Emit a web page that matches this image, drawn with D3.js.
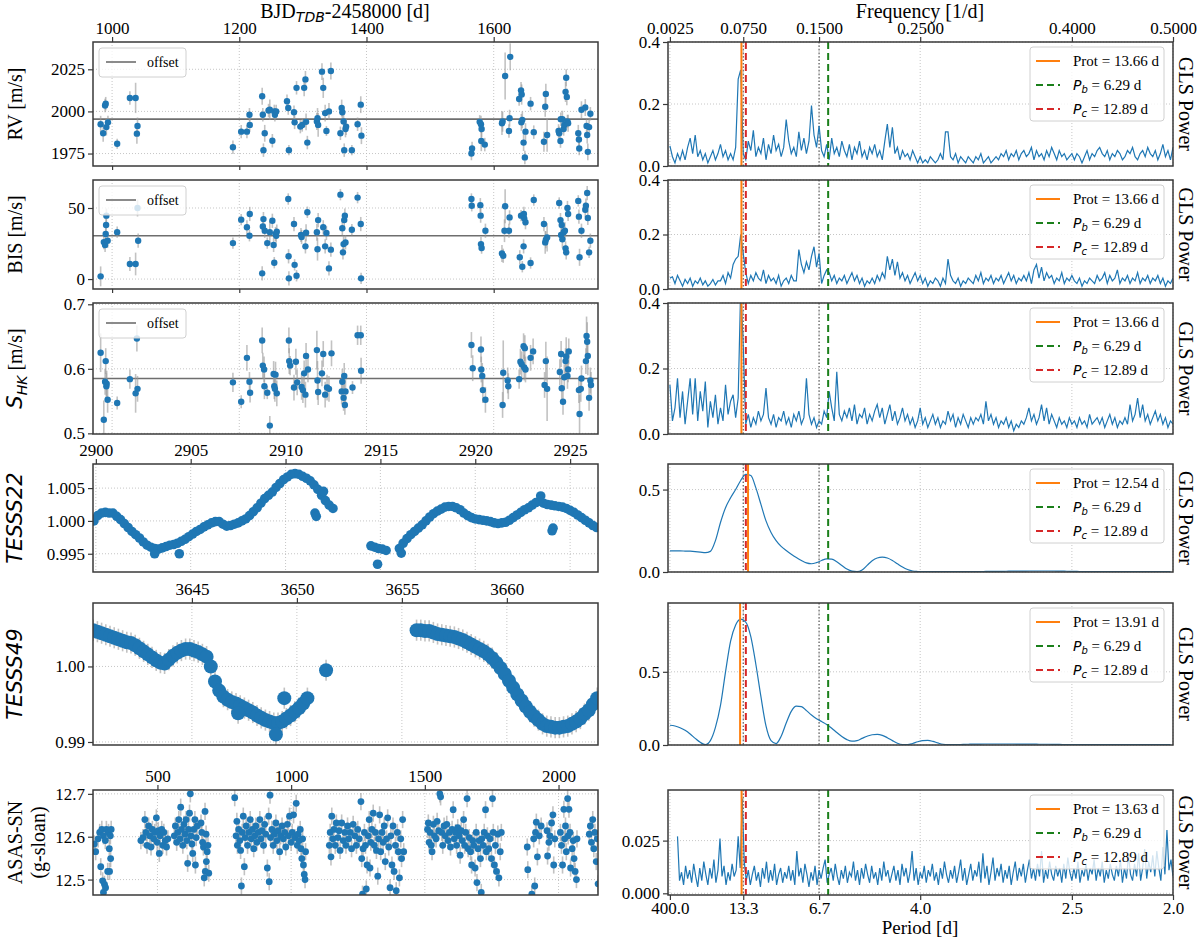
<!DOCTYPE html>
<html><head><meta charset="utf-8">
<script src="https://cdn.jsdelivr.net/npm/d3@7"></script>
<style>body{margin:0;background:#fff}</style>
</head><body>
<svg id="chart" width="1200" height="941"></svg>
<script>
// ================= DATA =================
const bjdTicks = [1000, 1200, 1400, 1600];
// [BJD-2458000, value, error]
const rvData = [[982,1992.4,5],[986,1987,5],[989,2003.5,4],[990,2004.6,4],[991,1990.7,5],[993.5,1993.5,4],[1008,1980.8,3],[1028,2008,4],[1037,2008,9],[1039,1986.8,6],[1040,1991.4,5],
[1190,1978.7,4],[1203,1988,4],[1212,1988,4],[1216,1998,4],[1216.5,1992,4],[1236,2009,5],[1237,1998,4],[1238,1977,4],[1240,1987,5],[1246,2000.5,4],[1248,2001,6],[1252,1982.6,4],[1255,2000,4],[1256,1998,4],[1258,2000,4],[1275,2006,4],[1277,2002,4],[1278,1977,3],[1286,1999.5,4],[1287,1993.5,4],[1290,2014,4],[1296,1991,4],[1299,1992,4],[1302,2014,5],[1304,2019,5],[1305,1993.8,5],[1307,1981.5,4],[1322,1994,5],[1323,1996,6],[1324,1992,7],[1330,2023.6,5],[1332,2014,6],[1335,1999,5],[1337,1988.4,3],[1341,2000,5],[1344,2024,5],[1359,1987,4],[1361,2002,5],[1362,1999.5,4],[1364,1994,5],[1365,1977,4],[1367,1989.6,5],[1368,1991,5],[1377,1977,3],[1386,1992.4,4],[1391,2004,5],[1392,1985.6,5],
[1565,1975,4],[1566,1978,4],[1578,1993.8,4],[1580,1992.4,5],[1580.5,1982.4,6],[1581,1989.6,5],[1586,1980.3,4],
[1613,1993,7],[1614,1994,6],[1618,2021,14],[1624,1988.4,4],[1625,1996,5],[1626,2032.4,8],[1640,2007.4,4],[1643,2012.5,5],[1643.5,1993.5,5],[1644,2010,6],[1645,1995,5],[1647,1981.5,5],[1649,1972.7,4],[1650,1988,5],[1658,2004.6,4],[1663,1987.7,4],[1679,1982,6],[1681,2002.8,6],[1682,2010.4,6],[1684,1986,10],[1702,1988.4,4],[1703,1987,4],[1705,1982.4,4],[1705.5,1995.4,4],[1708,1995.4,5],[1710,1989.6,4],[1711,1992,4],[1713,2011.6,6],[1714,2020,5],[1715,2008.6,5],[1716,1994,4],[1717,1993,5],[1733,1987,5],[1734,1983.3,5],[1734.5,1978,4],[1738,2001,5],[1744,2002.3,5],[1746,1991.4,4],[1747,1986,5],[1748,1976,5],[1750,1990.7,5],[1752,1998.6,4]];
const bisData = [[982,1.9,7],[987,26,5],[989,24,5],[990,31.7,5],[990.6,38,5],[991,44.6,5],[993,27,5],[1008,33,4],[1028,10.6,5],[1037,10.6,8],[1040,50,6],[1041,27,5],
[1190,25.3,4],[1203,41.8,4],[1212,36.4,5],[1216,30.5,4],[1216.5,45.8,5],[1236,4,5],[1237,37,5],[1238,42.2,5],[1240,34,5],[1244,25.3,4],[1248,32.9,8],[1252,41,5],[1254,24,5],[1255,11.5,4],[1257,31.7,5],[1258,30.5,5],[1259,33.3,5],[1277,56.3,4],[1277.5,16,5],[1278,0.5,5],[1286,38.7,5],[1287,10,4],[1290,2.3,4],[1297,31,5],[1298,29.6,5],[1304,23,5],[1305,32.6,6],[1307,47,4],[1322,32.9,6],[1323,21,8],[1324,41.5,5],[1332,36.4,5],[1335,23,5],[1337,32.4,5],[1341,7.5,5],[1344,20.7,5],[1359,59.4,4],[1362,35.7,5],[1363,18.8,5],[1364,24.6,6],[1365,41.5,5],[1366,44.6,5],[1367,25.8,5],[1377,34.7,4],[1386,57.3,4],[1391,38.7,5],[1391.5,0.5,4],
[1565,56.3,4],[1565.5,51.6,4],[1579,52,5],[1579.5,44.6,5],[1580,24.6,5],[1581,21.8,4],[1587,34,5],
[1613,18,6],[1615,16.4,5],[1617,34,8],[1618,51.2,12],[1624,34,5],[1625,43.4,5],[1641,15.3,5],[1643,44.6,4],[1645,8.7,4],[1647,23,5],[1647.5,45.8,5],[1648,42.7,5],[1650,40,5],[1658,11.3,4],[1663,55.6,4],[1679,38.7,5],[1681,25.8,8],[1682,27.7,6],[1684,29.3,10],[1703,53.5,4],[1705,41.5,5],[1706,31,5],[1707,38,5],[1708,28,6],[1710,32.9,5],[1712,34,6],[1713,21.6,5],[1714,18.8,5],[1716,50,5],[1717,45.8,5],[1733,55,4],[1734,43.9,5],[1735,15.3,6],[1738,34,5],[1744,48.8,5],[1745,51.6,5],[1747,60.5,5],[1748,43,5],[1750,18.8,4],[1752,27,5]];
const shkData = [[982,0.625,0.03],[987,0.521,0.03],[989,0.58,0.02],[990,0.612,0.02],[991,0.573,0.02],[991.5,0.577,0.02],[993,0.552,0.02],[1008,0.547,0.01],[1028,0.584,0.015],[1037,0.562,0.03],[1039,0.647,0.02],[1040,0.569,0.02],
[1190,0.579,0.015],[1203,0.549,0.01],[1212,0.617,0.02],[1216,0.58,0.015],[1217,0.563,0.015],[1236,0.644,0.02],[1237,0.605,0.02],[1239,0.599,0.02],[1239.5,0.573,0.02],[1244,0.563,0.01],[1248,0.512,0.015],[1254,0.592,0.02],[1255,0.573,0.02],[1256,0.569,0.02],[1257,0.591,0.02],[1259,0.562,0.02],[1278,0.644,0.02],[1278.5,0.612,0.02],[1280,0.605,0.015],[1286,0.571,0.02],[1289,0.611,0.02],[1291,0.579,0.02],[1298,0.572,0.02],[1300,0.567,0.02],[1302,0.593,0.02],[1304,0.56,0.02],[1305,0.62,0.02],[1308,0.599,0.02],[1322,0.629,0.03],[1323,0.582,0.03],[1324,0.564,0.02],[1330,0.593,0.02],[1332,0.623,0.02],[1335,0.56,0.02],[1338,0.571,0.02],[1341,0.569,0.02],[1345,0.624,0.02],[1361,0.565,0.02],[1362,0.58,0.02],[1364,0.555,0.02],[1365,0.589,0.02],[1366,0.544,0.015],[1367,0.565,0.02],[1378,0.571,0.01],[1386,0.652,0.015],[1391,0.652,0.015],[1391.5,0.597,0.02],
[1565,0.637,0.02],[1567,0.601,0.02],[1580,0.63,0.02],[1580.5,0.599,0.02],[1582,0.589,0.02],[1583,0.567,0.02],[1587,0.552,0.02],
[1614,0.544,0.02],[1615,0.594,0.05],[1622,0.582,0.02],[1623,0.573,0.02],[1640,0.584,0.015],[1642,0.611,0.02],[1644,0.607,0.02],[1647,0.635,0.02],[1648,0.602,0.02],[1649,0.632,0.02],[1650,0.599,0.02],[1658,0.617,0.02],[1662,0.627,0.02],[1680,0.575,0.02],[1682,0.612,0.03],[1684,0.569,0.05],[1704,0.595,0.02],[1706,0.623,0.02],[1707,0.57,0.02],[1709,0.549,0.02],[1711,0.587,0.02],[1713,0.612,0.02],[1714,0.619,0.03],[1716,0.589,0.02],[1717,0.599,0.02],[1718,0.627,0.02],[1734,0.567,0.02],[1735,0.53,0.03],[1737,0.569,0.02],[1738,0.585,0.02],[1745,0.612,0.02],[1746,0.651,0.03],[1747,0.642,0.03],[1748,0.62,0.03],[1750,0.555,0.02],[1752,0.582,0.02],[1753,0.575,0.02]];
const rvOffset = 1995.4, bisOffset = 30.5, shkOffset = 0.585;

// TESS cadence-binned fluxes (time grid start + i*binStep)
const binStep = 0.2;
const tess22Ticks = [2900, 2905, 2910, 2915, 2920, 2925];
const tess22Start1 = 2899.9;
const tess22Flux1 = [1.0000,1.0008,1.0012,1.0013,1.0012,1.0012,1.0007,1.0002,0.9996,0.9990,
 0.9984,0.9979,0.9974,0.9968,0.9963,0.9960,0.9958,0.9957,0.9959,0.9961,
 0.9963,0.9964,0.9966,0.9969,0.9972,0.9976,0.9980,0.9984,0.9987,0.9991,
 0.9994,0.9997,0.9999,0.9999,0.9995,0.9992,0.9993,0.9995,0.9997,1.0000,
 1.0003,1.0008,1.0014,1.0020,1.0027,1.0034,1.0039,1.0044,1.0051,1.0057,
 1.0063,1.0067,1.0071,1.0072,1.0071,1.0068,1.0065,1.0061,1.0055,1.0048,
 1.0039,1.0031,1.0024,1.0019];
const tess22Start2 = 2914.5;
const tess22Flux2 = [0.9962,0.9960,0.9958,0.9957,0.9955];
const tess22Start3 = 2916.0;
const tess22Flux3 = [0.9958,0.9966,0.9973,0.9979,0.9984,0.9989,0.9994,1.0000,1.0006,1.0011,
 1.0015,1.0018,1.0021,1.0022,1.0022,1.0020,1.0017,1.0012,1.0008,1.0005,
 1.0003,1.0002,1.0001,1.0000,0.9999,0.9997,0.9996,0.9997,0.9998,1.0001,
 1.0005,1.0009,1.0013,1.0017,1.0020,1.0024,1.0028,1.0030,1.0027,1.0025,
 1.0024,1.0023,1.0022,1.0021,1.0019,1.0016,1.0013,1.0009,1.0005,1.0001,
 0.9997,0.9993,0.9990];
const tess22Outliers = [[2911.55,1.0012],[2911.62,1.0007],[2914.85,0.9934],[2923.45,1.0038],[2924.05,0.9985],[2924.1,0.9989],[2916.1,0.9951],[2903.1,0.9950],[2904.4,0.9950],[2912.0,1.0045]];
const tess22Scatter = 0.0004;

const tess49Ticks = [3645, 3650, 3655, 3660];
const tess49Start1 = 3640.3;
const tess49Flux1 = [1.0048,1.0046,1.0044,1.0042,1.0040,1.0038,1.0036,1.0034,1.0032,
 1.0031,1.0028,1.0024,1.0020,1.0016,1.0012,1.0008,1.0005,1.0004,1.0009,
 1.0014,1.0018,1.0021,1.0023,1.0023,1.0021,1.0019,1.0016,1.0013,1.0000,
 0.9980,0.9968,0.9960,0.9956,0.9953,0.9951,0.9948,0.9945,0.9942,0.9939,
 0.9935,0.9932,0.9929,0.9927,0.9925,0.9925,0.9927,0.9931,0.9935,0.9940,
 0.9945,0.9951,0.9958];
const tess49Start2 = 3655.7;
const tess49Flux2 = [1.0048,1.0048,1.0047,1.0047,1.0045,1.0043,1.0042,1.0041,1.0040,1.0039,
 1.0037,1.0035,1.0032,1.0029,1.0026,1.0023,1.0020,1.0016,1.0011,1.0005,
 0.9998,0.9990,0.9981,0.9972,0.9963,0.9955,0.9947,0.9940,0.9934,0.9929,
 0.9924,0.9921,0.9920,0.9919,0.9919,0.9920,0.9921,0.9924,0.9927,0.9931,
 0.9937,0.9942,0.9950,0.9958];
const tess49Outliers = [[3651.39,0.9995],[3649.0,0.9910],[3647.2,0.9938],[3649.4,0.9958]];
const tess49Scatter = 0.0014;

const asasTicks = [500, 1000, 1500, 2000];
const asasErr = 0.02;
const asasData = [[264,12.583],[269,12.565],[278,12.595],[284,12.61],[288,12.53],[292,12.617],[295,12.497],[298,12.602],[302,12.489],[305,12.591],[306,12.481],[309,12.617],[314,12.519],[317,12.61],[320,12.572],[321,12.519],[324,12.602],[325,12.549],[327,12.617],[298,12.47],
[438,12.591],[446,12.598],[453,12.64],[457,12.61],[461,12.58],[467,12.625],[471,12.602],[476,12.576],[481,12.617],[486,12.595],[490,12.61],[496,12.644],[499,12.587],[503,12.614],[507,12.561],[510,12.602],[516,12.617],[520,12.58],[524,12.61],[529,12.591],[534,12.576],[539,12.595],
[563,12.602],[567,12.625],[572,12.587],[576,12.61],[580,12.64],[585,12.595],[587,12.669],[590,12.617],[595,12.58],[599,12.629],[603,12.606],[607,12.64],[610,12.591],[613,12.538],[616,12.617],[620,12.655],[623,12.7],[625,12.602],[629,12.583],[632,12.561],[636,12.617],[640,12.64],[642,12.534],[645,12.598],[649,12.625],
[663,12.632],[666,12.61],[669,12.587],[672,12.576],[675,12.504],[678,12.659],[679,12.519],[682,12.606],[683,12.542],[686,12.565],[689,12.58],[692,12.515],
[789,12.691],[794,12.602],[797,12.636],[799,12.58],[804,12.617],[808,12.591],[811,12.568],[814,12.485],[817,12.61],[821,12.648],[825,12.53],[828,12.598],[832,12.625],[837,12.58],[842,12.61],[847,12.64],[851,12.595],[855,12.617],[860,12.572],[864,12.602],[868,12.625],[872,12.587],[877,12.61],[883,12.64],[887,12.595],[891,12.614],[897,12.58],[901,12.629],[905,12.606],[911,12.527],[916,12.648],[918,12.495],[921,12.697],[923,12.598],[928,12.617],[933,12.58],[937,12.606],[943,12.632],[947,12.591],[951,12.614],[957,12.565],[961,12.602],[966,12.625],[971,12.595],[976,12.61],[980,12.576],[986,12.629],[990,12.602],[994,12.648],[1000,12.587],[1004,12.61],[1009,12.651],[1014,12.598],[1019,12.678],[1023,12.58],[1026,12.606],[1030,12.591],[1034,12.617],[1037,12.572],[1040,12.549],[1043,12.595],[1046,12.534],[1049,12.512],[1052,12.5],[1054,12.565],
[1143,12.58],[1146,12.61],[1149,12.553],[1152,12.648],[1156,12.595],[1160,12.617],[1165,12.58],[1169,12.632],[1175,12.598],[1179,12.614],[1183,12.568],[1189,12.632],[1195,12.591],[1201,12.61],[1205,12.58],[1211,12.625],[1215,12.595],[1221,12.61],[1226,12.572],[1232,12.629],[1238,12.602],[1244,12.58],[1249,12.617],[1255,12.595],[1261,12.682],[1264,12.549],[1267,12.466],[1269,12.572],[1274,12.61],[1278,12.58],[1281,12.478],[1284,12.534],[1288,12.602],[1292,12.64],[1295,12.527],[1298,12.587],[1302,12.617],[1307,12.655],[1311,12.58],[1315,12.61],[1319,12.568],[1324,12.508],[1327,12.595],[1331,12.651],[1335,12.565],[1340,12.61],[1344,12.587],[1348,12.625],[1352,12.542],[1357,12.595],[1361,12.644],[1365,12.576],[1370,12.481],[1373,12.602],[1377,12.534],[1381,12.625],[1385,12.519],[1390,12.58],[1393,12.474],[1397,12.61],[1401,12.565],[1405,12.504],[1410,12.595],[1413,12.549],[1417,12.64],[1421,12.565],
[1510,12.617],[1513,12.632],[1516,12.587],[1520,12.61],[1524,12.58],[1527,12.565],[1532,12.629],[1536,12.602],[1542,12.595],[1546,12.636],[1552,12.614],[1556,12.7],[1559,12.693],[1563,12.61],[1567,12.58],[1572,12.625],[1576,12.602],[1582,12.629],[1587,12.591],[1592,12.61],[1596,12.576],[1602,12.617],[1606,12.663],[1610,12.595],[1615,12.61],[1619,12.58],[1623,12.621],[1628,12.602],[1632,12.557],[1636,12.614],[1640,12.591],[1645,12.64],[1649,12.58],[1653,12.61],[1658,12.689],[1662,12.572],[1666,12.598],[1671,12.565],[1675,12.534],[1679,12.591],[1683,12.58],[1688,12.527],[1692,12.61],[1695,12.493],[1699,12.572],[1703,12.591],[1708,12.549],[1711,12.47],[1713,12.595],[1718,12.58],[1722,12.61],[1727,12.663],[1730,12.565],[1734,12.602],[1739,12.572],[1744,12.595],[1749,12.549],[1753,12.689],[1756,12.61],[1760,12.534],[1764,12.58],[1768,12.519],[1773,12.606],[1777,12.504],[1782,12.565],[1786,12.61],
[1883,12.576],[1885,12.523],[1900,12.466],[1907,12.595],[1911,12.485],[1914,12.61],[1917,12.634],[1921,12.553],[1928,12.602],[1935,12.625],[1957,12.614],[1959,12.555],[1964,12.587],[1968,12.602],[1974,12.632],[1979,12.651],[1982,12.534],[1986,12.595],[2007,12.61],[2011,12.58],[2015,12.534],[2020,12.664],[2023,12.595],[2026,12.625],[2029,12.565],[2034,12.689],[2036,12.602],[2039,12.664],[2043,12.61],[2045,12.527],[2051,12.572],[2055,12.591],[2058,12.549],[2062,12.519],[2067,12.5],[2069,12.595],[2115,12.606],[2119,12.625],[2123,12.587],[2128,12.64],[2132,12.572],[2136,12.61],[2141,12.542],[2145,12.595],[2148,12.49]];

// Periodograms. Noisy ones on grid f = 0.0025*(i+1); smooth ones on f = 0.0025 + 0.005*i; ASAS f = 0.01 + 0.002*i
const noisyStep = 0.0025, smoothStart = 0.0025, smoothStep = 0.005, asasStart = 0.01, asasStep = 0.002;
const glsRV = [0.065,0.03,0.01,0.04,0.02,0.05,0.02,0.06,0.09,0.04,
0.1,0.03,0.05,0.02,0.04,0.01,0.03,0.05,0.02,0.04,
0.07,0.03,0.05,0.02,0.04,0.02,0.06,0.28,0.31,0.04,
0.02,0.08,0.05,0.115,0.03,0.06,0.04,0.09,0.02,0.07,
0.04,0.1,0.05,0.07,0.03,0.06,0.15,0.08,0.04,0.06,
0.03,0.11,0.05,0.09,0.04,0.08,0.195,0.1,0.06,0.13,
0.05,0.03,0.07,0.02,0.09,0.04,0.06,0.03,0.08,0.05,
0.03,0.07,0.02,0.06,0.04,0.08,0.03,0.05,0.02,0.06,
0.04,0.07,0.03,0.05,0.02,0.08,0.135,0.06,0.125,0.04,
0.06,0.02,0.05,0.03,0.04,0.02,0.05,0.03,0.01,0.03,
0.01,0.02,0.01,0.03,0.02,0.01,0.02,0.04,0.02,0.11,
0.11,0.03,0.02,0.04,0.01,0.03,0.02,0.01,0.03,0.02,
0.01,0.03,0.02,0.04,0.01,0.02,0.03,0.01,0.02,0.03,
0.02,0.04,0.03,0.05,0.02,0.04,0.03,0.05,0.02,0.04,
0.05,0.03,0.04,0.06,0.02,0.05,0.03,0.04,0.02,0.05,
0.03,0.06,0.04,0.02,0.05,0.03,0.04,0.02,0.03,0.04,
0.02,0.04,0.03,0.01,0.03,0.05,0.02,0.04,0.03,0.05,
0.06,0.04,0.03,0.05,0.02,0.04,0.03,0.05,0.04,0.02,
0.03,0.05,0.04,0.06,0.03,0.02,0.04,0.05,0.03,0.06,
0.04,0.03,0.05,0.02,0.04,0.07,0.03,0.05,0.02,0.06];
const glsBIS = [0.04,0.045,0.02,0.05,0.03,0.01,0.035,0.02,0.04,0.01,
0.03,0.02,0.04,0.015,0.03,0.01,0.02,0.035,0.015,0.03,
0.03,0.05,0.02,0.06,0.04,0.09,0.11,0.12,0.2,0.13,
0.06,0.02,0.05,0.03,0.06,0.04,0.03,0.07,0.02,0.05,
0.03,0.04,0.02,0.05,0.01,0.03,0.04,0.02,0.05,0.03,
0.03,0.145,0.09,0.06,0.1,0.07,0.12,0.155,0.08,0.13,
0.02,0.05,0.07,0.06,0.03,0.05,0.02,0.04,0.03,0.05,
0.02,0.04,0.06,0.03,0.05,0.02,0.04,0.01,0.03,0.02,
0.04,0.02,0.05,0.03,0.06,0.04,0.12,0.07,0.11,0.05,
0.1,0.04,0.06,0.03,0.05,0.02,0.04,0.06,0.03,0.05,
0.02,0.04,0.01,0.03,0.02,0.04,0.03,0.01,0.04,0.02,
0.11,0.05,0.03,0.02,0.04,0.01,0.03,0.02,0.04,0.03,
0.02,0.05,0.03,0.06,0.02,0.04,0.03,0.05,0.02,0.04,
0.03,0.05,0.02,0.04,0.06,0.03,0.05,0.02,0.04,0.03,
0.05,0.03,0.06,0.02,0.07,0.09,0.04,0.08,0.03,0.06,
0.04,0.05,0.02,0.04,0.03,0.06,0.02,0.04,0.03,0.05,
0.03,0.02,0.04,0.01,0.03,0.02,0.04,0.03,0.02,0.05,
0.03,0.04,0.06,0.02,0.05,0.03,0.04,0.07,0.02,0.04,
0.03,0.05,0.02,0.04,0.03,0.06,0.02,0.04,0.03,0.05,
0.02,0.04,0.03,0.05,0.02,0.04,0.01,0.03,0.02,0.04];
const glsSHK = [0.15,0.04,0.08,0.17,0.05,0.13,0.03,0.1,0.17,0.06,
0.17,0.04,0.13,0.07,0.16,0.02,0.1,0.05,0.12,0.03,
0.08,0.04,0.15,0.06,0.1,0.12,0.05,0.11,0.45,0.27,
0.03,0.06,0.02,0.05,0.03,0.07,0.04,0.06,0.14,0.05,
0.03,0.06,0.02,0.05,0.04,0.07,0.03,0.05,0.02,0.06,
0.04,0.07,0.03,0.05,0.17,0.06,0.03,0.05,0.02,0.04,
0.03,0.07,0.05,0.13,0.08,0.04,0.19,0.06,0.04,0.07,
0.05,0.08,0.04,0.09,0.03,0.06,0.05,0.08,0.03,0.06,
0.04,0.07,0.09,0.05,0.08,0.03,0.06,0.09,0.04,0.07,
0.03,0.05,0.08,0.04,0.06,0.03,0.05,0.02,0.04,0.08,
0.03,0.05,0.02,0.04,0.06,0.03,0.05,0.02,0.04,0.03,
0.07,0.04,0.06,0.02,0.05,0.03,0.06,0.04,0.02,0.05,
0.03,0.05,0.04,0.06,0.03,0.1,0.04,0.06,0.03,0.05,
0.02,0.04,0.03,0.05,0.02,0.04,0.01,0.03,0.02,0.04,
0.03,0.05,0.08,0.04,0.06,0.03,0.05,0.09,0.04,0.08,
0.03,0.06,0.04,0.02,0.05,0.03,0.04,0.02,0.05,0.03,
0.04,0.02,0.05,0.03,0.04,0.02,0.06,0.03,0.04,0.05,
0.03,0.05,0.02,0.04,0.06,0.03,0.05,0.02,0.04,0.03,
0.05,0.03,0.09,0.04,0.06,0.11,0.05,0.09,0.04,0.06,
0.03,0.05,0.07,0.04,0.06,0.03,0.05,0.02,0.04,0.03];
const glsTESS22 = [0.128,0.128,0.128,0.127,0.126,0.124,0.121,0.117,0.125,0.19,
0.30,0.39,0.45,0.50,0.555,0.592,0.585,0.51,0.41,0.31,
0.24,0.19,0.155,0.13,0.108,0.088,0.07,0.055,0.05,0.057,
0.07,0.08,0.078,0.062,0.04,0.018,0.005,0.002,0.012,0.04,
0.068,0.085,0.09,0.085,0.07,0.05,0.03,0.015,0.006,0.003,
0.002,0.002,0.003,0.003,0.003,0.003,0.002,0.002,0.002,0.002,
0.002,0.003,0.003,0.004,0.004,0.004,0.004,0.005,0.005,0.005,
0.005,0.006,0.006,0.006,0.006,0.006,0.006,0.005,0.005,0.004,
0.004,0.003,0.003,0.002,0.002,0.002,0.002,0.002,0.002,0.003,
0.003,0.003,0.003,0.003,0.003,0.002,0.002,0.002,0.002,0.002];
const glsTESS49 = [0.135,0.13,0.118,0.1,0.075,0.045,0.018,0.002,0.03,0.12,
0.27,0.5,0.71,0.82,0.86,0.84,0.74,0.55,0.33,0.13,
0.03,0.01,0.06,0.15,0.23,0.265,0.262,0.235,0.205,0.18,
0.16,0.14,0.115,0.085,0.058,0.037,0.026,0.03,0.045,0.06,
0.07,0.072,0.066,0.05,0.03,0.012,0.003,0.002,0.01,0.022,
0.03,0.031,0.025,0.014,0.005,0.002,0.002,0.003,0.004,0.005,
0.006,0.006,0.007,0.007,0.007,0.007,0.007,0.007,0.007,0.006,
0.006,0.006,0.006,0.005,0.005,0.005,0.004,0.004,0.003,0.002,
0.002,0.002,0.003,0.003,0.003,0.002,0.002,0.002,0.002,0.002,
0.002,0.002,0.002,0.002,0.002,0.002,0.002,0.002,0.002,0.002];
const glsASAS = [0.027,0.006,0.01,0.004,0.013,0.007,
0.011,0.005,0.014,0.008,0.003,0.012,0.006,0.015,0.009,0.004,
0.012,0.007,0.016,0.005,0.011,0.026,0.008,0.013,0.004,0.01,
0.006,0.014,0.008,0.011,0.027,0.012,0.045,0.015,0.006,0.011,
0.004,0.009,0.013,0.006,0.01,0.003,0.012,0.007,0.015,0.005,
0.011,0.006,0.014,0.004,0.009,0.012,0.005,0.01,0.007,0.013,
0.006,0.011,0.004,0.02,0.008,0.012,0.005,0.014,0.009,0.003,
0.01,0.006,0.013,0.004,0.011,0.007,0.012,0.016,0.005,0.009,
0.012,0.006,0.014,0.008,0.004,0.011,0.007,0.013,0.005,0.01,
0.008,0.015,0.006,0.011,0.004,0.012,0.007,0.014,0.009,0.005,
0.013,0.007,0.01,0.004,0.012,0.006,0.015,0.008,0.011,0.005,
0.009,0.013,0.006,0.011,0.004,0.014,0.008,0.012,0.005,0.01,
0.02,0.006,0.012,0.004,0.01,0.007,0.013,0.005,0.011,0.008,
0.014,0.006,0.01,0.004,0.012,0.007,0.015,0.009,0.005,0.011,
0.007,0.013,0.005,0.01,0.016,0.006,0.012,0.004,0.009,0.014,
0.006,0.011,0.008,0.015,0.005,0.019,0.007,0.013,0.004,0.01,
0.017,0.006,0.012,0.008,0.014,0.005,0.011,0.007,0.013,0.004,
0.01,0.015,0.006,0.012,0.008,0.014,0.005,0.011,0.016,0.007,
0.012,0.006,0.014,0.008,0.02,0.005,0.011,0.007,0.015,0.009,
0.006,0.013,0.008,0.012,0.005,0.014,0.007,0.017,0.01,0.006,
0.012,0.007,0.015,0.005,0.011,0.008,0.014,0.006,0.012,0.009,
0.016,0.006,0.012,0.008,0.015,0.005,0.011,0.007,0.014,0.009,
0.006,0.013,0.008,0.016,0.005,0.012,0.007,0.018,0.009,0.006,
0.014,0.008,0.019,0.006,0.012,0.021,0.007,0.015,0.01,0.018,
0.008,0.02,0.012,0.006,0.022,0.009,0.03,0.011,0.016,0.008];
const protValues = [13.66, 13.66, 13.66, 12.54, 13.91, 13.63];
const periodB = 6.29, periodC = 12.89;
const freqTicks = [0.0025, 0.075, 0.15, 0.25, 0.4, 0.5];
const freqTickLabels = ['0.0025','0.0750','0.1500','0.2500','0.4000','0.5000'];
const periodTickLabels = ['400.0','13.3','6.7','4.0','2.5','2.0'];

// ================= DRAWING =================
const svg = d3.select('#chart');
const LX = [93, 598], RX = [668, 1173];
const ROWS = [[42,166],[180,289],[303,434],[464,572],[603,745],[790,895]];
const BLUE='#1f77b4', ORANGE='#ff7f0e', GREEN='#1a7f1a', RED='#d62728';
const SERIF='"Liberation Serif","Times New Roman",Times,serif';
const SANS='"DejaVu Sans",Verdana,sans-serif';
const TICKFS = 17;
const defs = svg.append('defs');
let cid = 0;

function makePanel(xr,row,xDom,yDom){
  const x=d3.scaleLinear().domain(xDom).range(xr);
  const y=d3.scaleLinear().domain(yDom).range([row[1],row[0]]);
  const id='clip'+(cid++);
  defs.append('clipPath').attr('id',id).append('rect').attr('x',xr[0]).attr('y',row[0]).attr('width',xr[1]-xr[0]).attr('height',row[1]-row[0]);
  const g=svg.append('g');
  const grid=g.append('g'), body=g.append('g').attr('clip-path',`url(#${id})`), over=g.append('g');
  return {x,y,xr,row,g,grid,body,over};
}
function gridLines(p,xv,yv){
  p.grid.selectAll(null).data(xv).join('line')
    .attr('x1',d=>p.x(d)).attr('x2',d=>p.x(d)).attr('y1',p.row[0]).attr('y2',p.row[1])
    .attr('stroke','#b8b8b8').attr('stroke-width',0.8).attr('stroke-dasharray','1,2');
  p.grid.selectAll(null).data(yv).join('line')
    .attr('y1',d=>p.y(d)).attr('y2',d=>p.y(d)).attr('x1',p.xr[0]).attr('x2',p.xr[1])
    .attr('stroke','#b8b8b8').attr('stroke-width',0.8).attr('stroke-dasharray','1,2');
}
function frame(p){
  p.over.append('rect').attr('x',p.xr[0]).attr('y',p.row[0]).attr('width',p.xr[1]-p.xr[0]).attr('height',p.row[1]-p.row[0])
    .attr('fill','none').attr('stroke','#3a3a3a').attr('stroke-width',1.5);
}
function styleAxis(s){
  s.attr('font-family',SERIF).attr('font-size',TICKFS);
  s.select('.domain').remove();
  s.selectAll('.tick line').attr('stroke','#3a3a3a').attr('stroke-width',1.2);
  s.selectAll('.tick text').attr('fill','#000');
}
function yAxis(p,vals,fmt){
  p.over.append('g').attr('transform',`translate(${p.xr[0]},0)`)
    .call(d3.axisLeft(p.y).tickValues(vals).tickFormat(fmt).tickSize(5).tickPadding(3)).call(styleAxis);
}
function topAxis(p,vals,fmt){
  p.over.append('g').attr('transform',`translate(0,${p.row[0]})`)
    .call(d3.axisTop(p.x).tickValues(vals).tickFormat(fmt).tickSize(5).tickPadding(3)).call(styleAxis);
}
function bottomAxis(p,vals,fmt,size){
  p.over.append('g').attr('transform',`translate(0,${p.row[1]})`)
    .call(d3.axisBottom(p.x).tickValues(vals).tickFormat(fmt).tickSize(size).tickPadding(2)).call(styleAxis);
}
function errPoints(p,data,r,errFn){
  p.body.append('g').selectAll('line').data(data).join('line')
    .attr('x1',d=>p.x(d[0])).attr('x2',d=>p.x(d[0]))
    .attr('y1',d=>p.y(d[1]-errFn(d))).attr('y2',d=>p.y(d[1]+errFn(d)))
    .attr('stroke','#9a9a9a').attr('stroke-opacity',0.6).attr('stroke-width',1.6);
  p.body.append('g').selectAll('circle').data(data).join('circle')
    .attr('cx',d=>p.x(d[0])).attr('cy',d=>p.y(d[1])).attr('r',r).attr('fill',BLUE);
}
function offsetLine(p,v){
  p.body.append('line').attr('x1',p.xr[0]).attr('x2',p.xr[1]).attr('y1',p.y(v)).attr('y2',p.y(v))
    .attr('stroke','#6e6e6e').attr('stroke-width',1.6);
}
function offsetLegend(p){
  const x0=99, y0=p.row[0]+6;
  p.over.append('rect').attr('x',x0).attr('y',y0).attr('width',87).attr('height',29).attr('rx',3)
    .attr('fill','#fff').attr('fill-opacity',0.8).attr('stroke','#d0d0d0');
  p.over.append('line').attr('x1',x0+7).attr('x2',x0+37).attr('y1',y0+14).attr('y2',y0+14).attr('stroke','#6e6e6e').attr('stroke-width',1.6);
  p.over.append('text').attr('x',x0+48).attr('y',y0+19).attr('font-family',SERIF).attr('font-size',14).text('offset');
}
function yLabel(x,cy,build){
  const t=svg.append('text').attr('transform',`translate(${x},${cy}) rotate(-90)`).attr('text-anchor','middle')
    .attr('font-family',SERIF).attr('font-size',20);
  build(t);
  return t;
}
function lightCurve(start,flux){ return flux.map((v,i)=>[start+i*binStep, v]); }

// ---- Left column ----
const pRV = makePanel(LX, ROWS[0], [970,1764], [1967.6,2041.2]);
gridLines(pRV, bjdTicks, [1975,2000,2025]);
offsetLine(pRV, rvOffset);
errPoints(pRV, rvData, 3.2, d=>d[2]);
yAxis(pRV, [1975,2000,2025], d3.format('d'));
topAxis(pRV, bjdTicks, d3.format('d'));
bottomAxis(pRV, bjdTicks, ()=> '', 4);
frame(pRV); offsetLegend(pRV);
yLabel(22, (ROWS[0][0]+ROWS[0][1])/2, t=>t.text('RV [m/s]'));

const pBIS = makePanel(LX, ROWS[1], [970,1764], [-7,69.7]);
gridLines(pBIS, bjdTicks, [0,50]);
offsetLine(pBIS, bisOffset);
errPoints(pBIS, bisData, 3.2, d=>d[2]);
yAxis(pBIS, [0,50], d3.format('d'));
bottomAxis(pBIS, bjdTicks, ()=> '', 4);
frame(pBIS); offsetLegend(pBIS);
yLabel(22, (ROWS[1][0]+ROWS[1][1])/2, t=>t.text('BIS [m/s]'));

const pSHK = makePanel(LX, ROWS[2], [970,1764], [0.499,0.702]);
gridLines(pSHK, bjdTicks, [0.5,0.6,0.7]);
offsetLine(pSHK, shkOffset);
errPoints(pSHK, shkData, 3.2, d=>d[2]);
yAxis(pSHK, [0.5,0.6,0.7], d3.format('.1f'));
frame(pSHK); offsetLegend(pSHK);
yLabel(22, (ROWS[2][0]+ROWS[2][1])/2, t=>{
  t.append('tspan').attr('font-family',SANS).attr('font-style','italic').attr('font-size',21).text('S');
  t.append('tspan').attr('font-family',SANS).attr('font-style','italic').attr('font-size',14).attr('dy',5).text('HK');
  t.append('tspan').attr('dy',-5).text(' [m/s]');
});

const pT22 = makePanel(LX, ROWS[3], [2899.85,2926.47], [0.99222,1.00867]);
gridLines(pT22, tess22Ticks, [0.995,1.000,1.005]);
const t22pts = lightCurve(tess22Start1,tess22Flux1).concat(lightCurve(tess22Start2,tess22Flux2), lightCurve(tess22Start3,tess22Flux3), tess22Outliers);
errPoints(pT22, t22pts, 4.8, ()=>tess22Scatter);
yAxis(pT22, [0.995,1.000,1.005], d3.format('.3f'));
topAxis(pT22, tess22Ticks, d3.format('d'));
frame(pT22);
yLabel(22, (ROWS[3][0]+ROWS[3][1])/2, t=>t.attr('font-family',SANS).attr('font-style','italic').attr('font-size',21).text('TESSS22'));

const pT49 = makePanel(LX, ROWS[4], [3640.29,3664.34], [0.9896,1.0084]);
gridLines(pT49, tess49Ticks, [0.99,1.00]);
const t49pts = lightCurve(tess49Start1,tess49Flux1).concat(lightCurve(tess49Start2,tess49Flux2), tess49Outliers);
errPoints(pT49, t49pts, 7, ()=>tess49Scatter);
yAxis(pT49, [0.99,1.00], d3.format('.2f'));
topAxis(pT49, tess49Ticks, d3.format('d'));
frame(pT49);
yLabel(22, (ROWS[4][0]+ROWS[4][1])/2, t=>t.attr('font-family',SANS).attr('font-style','italic').attr('font-size',21).text('TESSS49'));

const pAS = makePanel(LX, ROWS[5], [259,2147.6], [12.464,12.709]);
gridLines(pAS, asasTicks, [12.5,12.6,12.7]);
errPoints(pAS, asasData, 3.4, ()=>asasErr);
yAxis(pAS, [12.5,12.6,12.7], d3.format('.1f'));
topAxis(pAS, asasTicks, d3.format('d'));
frame(pAS);
{
  const cy=(ROWS[5][0]+ROWS[5][1])/2;
  svg.append('text').attr('transform',`translate(15,${cy}) rotate(-90)`).attr('text-anchor','middle').attr('dominant-baseline','central')
    .attr('font-family',SERIF).attr('font-size',20).text('ASAS-SN');
  svg.append('text').attr('transform',`translate(38,${cy}) rotate(-90)`).attr('text-anchor','middle').attr('dominant-baseline','central')
    .attr('font-family',SERIF).attr('font-size',20).text('(g-sloan)');
}

{
  const t=svg.append('text').attr('x',345).attr('y',18).attr('text-anchor','middle').attr('font-family',SERIF).attr('font-size',20);
  t.append('tspan').text('BJD');
  t.append('tspan').attr('font-family',SANS).attr('font-style','italic').attr('font-size',14).attr('dy',4).text('TDB');
  t.append('tspan').attr('dy',-4).text('-2458000 [d]');
}

// ---- Right column ----
const glsSets = [
  {pw:glsRV,  f:i=>noisyStep*(i+1), yd:[0,0.4], yt:[0,0.2,0.4], fmt:d3.format('.1f'), curve:d3.curveLinear},
  {pw:glsBIS, f:i=>noisyStep*(i+1), yd:[0,0.4], yt:[0,0.2,0.4], fmt:d3.format('.1f'), curve:d3.curveLinear},
  {pw:glsSHK, f:i=>noisyStep*(i+1), yd:[0,0.4], yt:[0,0.2,0.4], fmt:d3.format('.1f'), curve:d3.curveLinear},
  {pw:glsTESS22, f:i=>smoothStart+smoothStep*i, yd:[0,0.655], yt:[0,0.5], fmt:d3.format('.1f'), curve:d3.curveMonotoneX},
  {pw:glsTESS49, f:i=>smoothStart+smoothStep*i, yd:[0,0.97], yt:[0,0.5], fmt:d3.format('.1f'), curve:d3.curveMonotoneX},
  {pw:glsASAS, f:i=>asasStart+asasStep*i, yd:[-0.0008,0.049], yt:[0,0.025], fmt:d3.format('.3f'), curve:d3.curveLinear}
];
glsSets.forEach((s,k)=>{
  const p = makePanel(RX, ROWS[k], [0.0006,0.5], s.yd);
  gridLines(p, freqTicks, s.yt);
  p.grid.selectAll(null).data([0.075,0.15]).join('line')
    .attr('x1',d=>p.x(d)).attr('x2',d=>p.x(d)).attr('y1',p.row[0]).attr('y2',p.row[1])
    .attr('stroke','#444').attr('stroke-width',1).attr('stroke-dasharray','1.5,2');
  const line = d3.line().x((d,i)=>p.x(s.f(i))).y(d=>p.y(d)).curve(s.curve);
  p.body.append('path').datum(s.pw).attr('d',line).attr('fill','none').attr('stroke',BLUE).attr('stroke-width',1.2);
  const vl=[{f:1/protValues[k],c:ORANGE,d:null},{f:1/periodB,c:GREEN,d:'7,4'},{f:1/periodC,c:RED,d:'7,4'}];
  p.body.selectAll(null).data(vl).join('line')
    .attr('x1',d=>p.x(d.f)).attr('x2',d=>p.x(d.f)).attr('y1',p.row[0]).attr('y2',p.row[1])
    .attr('stroke',d=>d.c).attr('stroke-width',2).attr('stroke-dasharray',d=>d.d);
  yAxis(p, s.yt, s.fmt);
  if(k===0) topAxis(p, freqTicks, (d,i)=>freqTickLabels[i]);
  if(k===5) bottomAxis(p, freqTicks, (d,i)=>periodTickLabels[i], 5);
  frame(p);
  const x0=1030, y0=p.row[0]+5;
  p.over.append('rect').attr('x',x0).attr('y',y0).attr('width',134).attr('height',74).attr('rx',3)
    .attr('fill','#fff').attr('fill-opacity',0.8).attr('stroke','#d0d0d0');
  vl.forEach((v,j)=>{
    const yy=y0+14+j*24;
    p.over.append('line').attr('x1',x0+6).attr('x2',x0+30).attr('y1',yy).attr('y2',yy)
      .attr('stroke',v.c).attr('stroke-width',2).attr('stroke-dasharray',v.d);
    const t=p.over.append('text').attr('x',x0+43).attr('y',yy+5).attr('font-family',SERIF).attr('font-size',15);
    if(j===0){ t.text('Prot = '+protValues[k].toFixed(2)+' d'); }
    else {
      t.append('tspan').attr('font-family',SANS).attr('font-style','italic').attr('font-size',14).text('P');
      t.append('tspan').attr('font-family',SANS).attr('font-style','italic').attr('font-size',10).attr('dy',3).text(j===1?'b':'c');
      t.append('tspan').attr('dy',-3).text(' = '+(j===1?periodB.toFixed(2):periodC.toFixed(2))+' d');
    }
  });
  const cy=(p.row[0]+p.row[1])/2;
  svg.append('text').attr('transform',`translate(1186,${cy}) rotate(90)`).attr('text-anchor','middle').attr('dominant-baseline','central')
    .attr('font-family',SERIF).attr('font-size',20).text('GLS Power');
});
svg.append('text').attr('x',920).attr('y',18).attr('text-anchor','middle').attr('font-family',SERIF).attr('font-size',20).text('Frequency [1/d]');
svg.append('text').attr('x',920).attr('y',934).attr('text-anchor','middle').attr('font-family',SERIF).attr('font-size',19).text('Period [d]');
</script>
</body></html>
